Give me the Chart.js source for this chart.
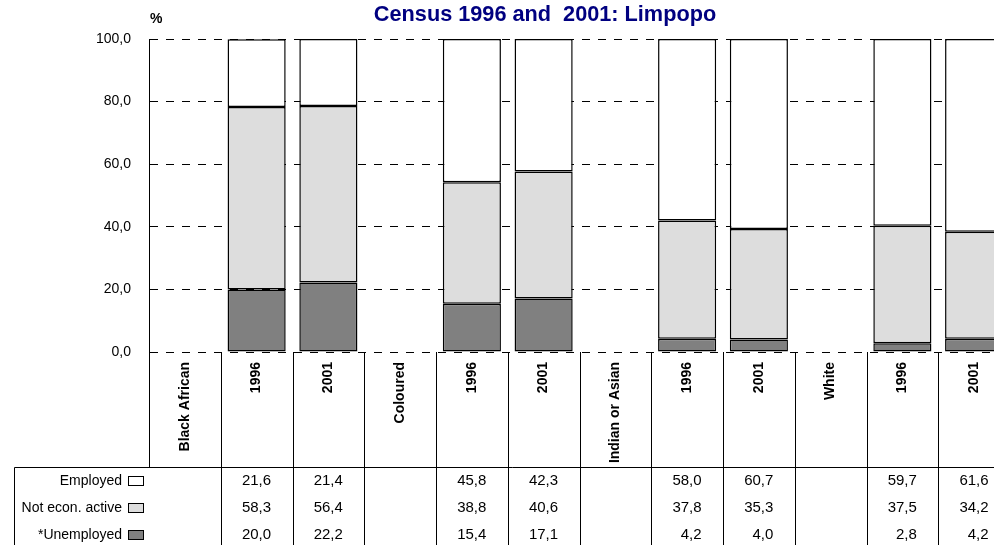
<!DOCTYPE html>
<html>
<head>
<meta charset="utf-8">
<script src="https://cdn.jsdelivr.net/npm/chart.js"></script>
<style>
  html, body { margin: 0; padding: 0; background: #fff; overflow: hidden; }
  #wrap { width: 994px; height: 545px; overflow: hidden; }
</style>
</head>
<body>
<div id="wrap"><canvas id="chart" width="1010" height="545"></canvas></div>
<script>
// categories along the x axis (group headers carry no values)
const categories = ['Black African', '1996', '2001', 'Coloured', '1996', '2001',
                    'Indian or Asian', '1996', '2001', 'White', '1996', '2001'];
const seriesNames = ['Employed', 'Not econ. active', '*Unemployed'];

const employed   = [null, 21.6, 21.4, null, 45.8, 42.3, null, 58.0, 60.7, null, 59.7, 61.6];
const notActive  = [null, 58.3, 56.4, null, 38.8, 40.6, null, 37.8, 35.3, null, 37.5, 34.2];
const unemployed = [null, 20.0, 22.2, null, 15.4, 17.1, null, 4.2, 4.0, null, 2.8, 4.2];

const seriesColors = ['#ffffff', '#dddddd', '#808080'];
const FONT = "'Liberation Sans', Arial, sans-serif";

const fmt = v => v.toFixed(1).replace('.', ',');

// title, "%" label and the data table under the axis
const tablePlugin = {
  id: 'tablePlugin',
  afterDraw(chart) {
    const ctx = chart.ctx;
    const area = chart.chartArea;
    const xs = chart.scales.x;
    const n = categories.length;
    const w = (area.right - area.left) / n;
    const tableTop = 467.5;
    const H = chart.height;

    ctx.save();
    // title
    ctx.fillStyle = '#000080';
    ctx.font = 'bold 21.7px ' + FONT;
    ctx.textAlign = 'center';
    ctx.textBaseline = 'middle';
    ctx.fillText('Census 1996 and  2001: Limpopo', 545, 15);

    ctx.fillStyle = '#000';
    ctx.font = 'bold 14px ' + FONT;
    ctx.textAlign = 'left';
    ctx.fillText('%', 150, 19);

    // lines
    ctx.strokeStyle = '#000';
    ctx.lineWidth = 1;
    ctx.beginPath();
    const x0 = Math.round(area.left) + 0.5;
    ctx.moveTo(x0, area.top);
    ctx.lineTo(x0, tableTop);
    for (let i = 1; i <= n; i++) {
      const x = Math.round(area.left + i * w) + 0.5;
      ctx.moveTo(x, area.bottom);
      ctx.lineTo(x, H);
    }
    ctx.moveTo(14.5, tableTop);
    ctx.lineTo(chart.width, tableTop);
    ctx.moveTo(14.5, tableTop);
    ctx.lineTo(14.5, H);
    ctx.stroke();

    // rows
    const rows = [employed, notActive, unemployed];
    const rowY = [481, 508, 535];
    ctx.textBaseline = 'middle';
    rows.forEach((vals, r) => {
      const y = rowY[r];
      ctx.fillStyle = '#000';
      ctx.font = '14px ' + FONT;
      ctx.textAlign = 'right';
      ctx.fillText(seriesNames[r], 122, y);
      ctx.fillStyle = seriesColors[r];
      ctx.fillRect(128.5, y - 4.5, 15, 9);
      ctx.strokeStyle = '#000';
      ctx.strokeRect(128.5, y - 4.5, 15, 9);
      ctx.fillStyle = '#000';
      ctx.font = '15px ' + FONT;
      vals.forEach((v, i) => {
        if (v === null) return;
        const cx = xs.getPixelForValue(i);
        ctx.fillText(fmt(v), cx + 14.5, y);
      });
    });
    ctx.restore();
  }
};

new Chart(document.getElementById('chart'), {
  type: 'bar',
  data: {
    labels: categories,
    datasets: [
      { label: seriesNames[2], data: unemployed, backgroundColor: seriesColors[2] },
      { label: seriesNames[1], data: notActive,  backgroundColor: seriesColors[1] },
      { label: seriesNames[0], data: employed,   backgroundColor: seriesColors[0] }
    ].map(d => Object.assign(d, {
      borderColor: '#000', borderWidth: 1.5, borderSkipped: false,
      barPercentage: 0.81, categoryPercentage: 1
    }))
  },
  options: {
    responsive: false,
    animation: false,
    layout: { padding: { top: 39, left: 0, right: 0, bottom: 0 } },
    plugins: {
      legend: { display: false },
      title: { display: false },
      tooltip: { enabled: false }
    },
    scales: {
      x: {
        stacked: true,
        grid: { display: false },
        border: { display: false },
        ticks: {
          color: '#000', font: { family: FONT, size: 14, weight: 'bold' },
          minRotation: 90, maxRotation: 90, autoSkip: false, padding: 2
        },
        afterFit(scale) { scale.height = 193; }
      },
      y: {
        stacked: true,
        min: 0, max: 100,
        grid: { color: '#000', lineWidth: 1, drawTicks: false },
        border: { display: true, color: '#000', width: 1, dash: [8, 8] },
        ticks: {
          stepSize: 20, color: '#000', padding: 18,
          font: { family: FONT, size: 14 },
          callback: v => fmt(v)
        },
        afterFit(scale) { scale.width = 149; }
      }
    }
  },
  plugins: [tablePlugin]
});
</script>
</body>
</html>
